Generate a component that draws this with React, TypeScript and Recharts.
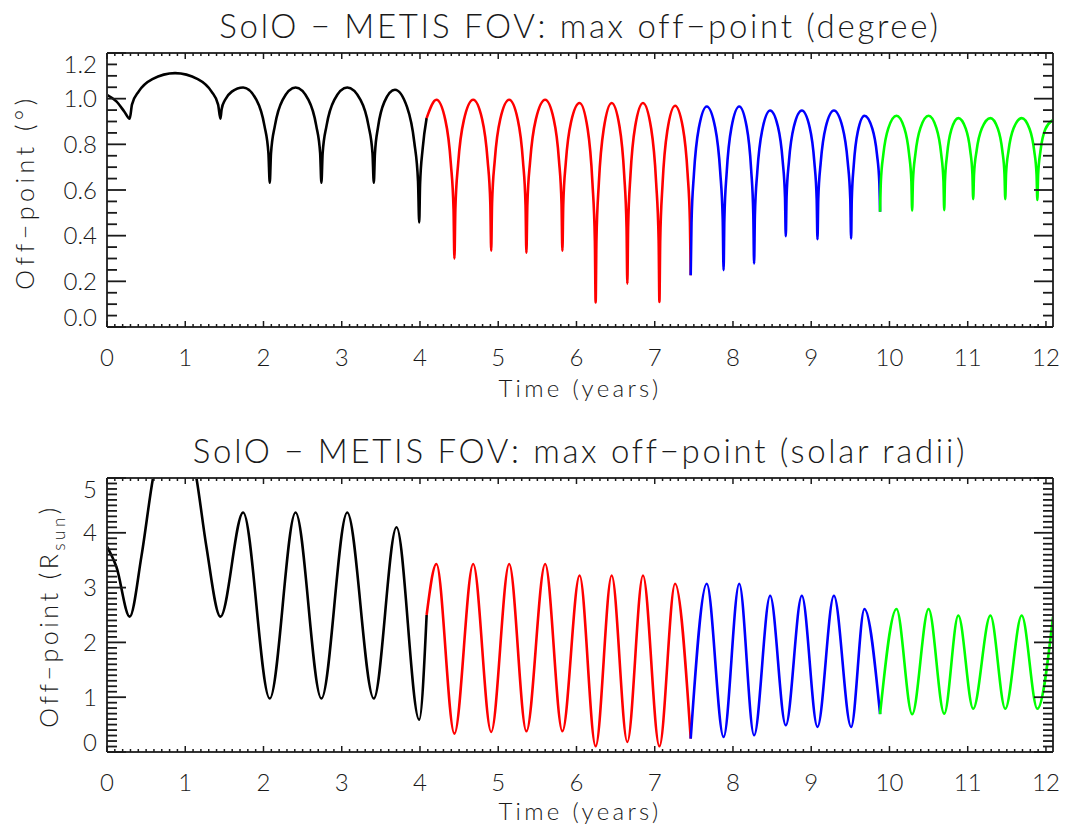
import React from "react";
import { LineChart, Line, XAxis, YAxis } from "recharts";

const FONT = "Lato, 'Open Sans', sans-serif";
const INK = "#1a1a1a";

// max off-point in degrees: [time (yr), value]
const degBlack = [
  [0, 1.017], [0.12, 0.988], [0.22, 0.944], [0.29, 0.912],
  [0.319, 0.974], [0.406, 1.032], [0.58, 1.086], [0.87, 1.112],
  [1.16, 1.086], [1.334, 1.032], [1.42, 0.974], [1.45, 0.912],
  [1.465, 0.954], [1.508, 0.994], [1.595, 1.031], [1.74, 1.049],
  [1.91, 0.995], [2.012, 0.882], [2.063, 0.761], [2.08, 0.632],
  [2.096, 0.761], [2.146, 0.882], [2.245, 0.995], [2.41, 1.049],
  [2.575, 0.995], [2.674, 0.882], [2.724, 0.761], [2.74, 0.632],
  [2.756, 0.761], [2.806, 0.882], [2.905, 0.995], [3.07, 1.049],
  [3.24, 0.995], [3.342, 0.882], [3.393, 0.761], [3.41, 0.632],
  [3.424, 0.758], [3.464, 0.876], [3.545, 0.986], [3.68, 1.039],
  [3.835, 0.963], [3.928, 0.807], [3.975, 0.638], [3.99, 0.458],
  [4.001, 0.624], [4.034, 0.78], [4.085, 0.915],
];
const degRed = [
  [4.085, 0.915], [4.21, 0.995],
  [4.325, 0.905], [4.394, 0.717], [4.429, 0.515], [4.44, 0.3],
  [4.452, 0.515], [4.488, 0.717], [4.56, 0.905], [4.68, 0.995],
  [4.795, 0.909], [4.864, 0.731], [4.899, 0.539], [4.91, 0.334],
  [4.921, 0.539], [4.956, 0.731], [5.025, 0.909], [5.14, 0.995],
  [5.25, 0.908], [5.316, 0.727], [5.349, 0.533], [5.36, 0.325],
  [5.372, 0.533], [5.408, 0.727], [5.48, 0.908], [5.6, 0.995],
  [5.71, 0.909], [5.776, 0.731], [5.809, 0.539], [5.82, 0.334],
  [5.831, 0.534], [5.864, 0.722], [5.93, 0.897], [6.04, 0.981],
  [6.143, 0.867], [6.204, 0.631], [6.235, 0.378], [6.245, 0.107],
  [6.255, 0.378], [6.286, 0.631], [6.348, 0.867], [6.45, 0.981],
  [6.55, 0.878], [6.61, 0.665], [6.64, 0.435], [6.65, 0.19],
  [6.66, 0.435], [6.69, 0.665], [6.75, 0.878], [6.85, 0.981],
  [6.955, 0.868], [7.018, 0.633], [7.05, 0.38], [7.06, 0.11],
  [7.07, 0.376], [7.1, 0.625], [7.16, 0.857], [7.26, 0.969],
  [7.36, 0.873], [7.42, 0.672], [7.45, 0.457], [7.46, 0.227],
];
const degBlue = [
  [7.46, 0.227], [7.47, 0.456], [7.501, 0.67], [7.563, 0.87], [7.665, 0.966],
  [7.773, 0.873], [7.837, 0.679], [7.869, 0.471], [7.88, 0.249],
  [7.89, 0.471], [7.92, 0.679], [7.98, 0.873], [8.08, 0.966],
  [8.175, 0.877], [8.232, 0.691], [8.26, 0.491], [8.27, 0.278],
  [8.28, 0.486], [8.311, 0.68], [8.373, 0.861], [8.475, 0.948],
  [8.575, 0.877], [8.635, 0.728], [8.665, 0.569], [8.675, 0.398],
  [8.685, 0.569], [8.716, 0.728], [8.778, 0.877], [8.88, 0.948],
  [8.98, 0.875], [9.04, 0.722], [9.07, 0.559], [9.08, 0.384],
  [9.09, 0.559], [9.122, 0.722], [9.185, 0.875], [9.29, 0.948],
  [9.4, 0.875], [9.466, 0.724], [9.499, 0.562], [9.51, 0.388],
  [9.518, 0.554], [9.544, 0.71], [9.595, 0.855], [9.68, 0.925],
  [9.78, 0.87], [9.84, 0.757], [9.87, 0.635], [9.88, 0.505],
];
const degGreen = [
  [9.88, 0.505], [9.89, 0.635], [9.922, 0.757], [9.985, 0.87], [10.09, 0.925],
  [10.19, 0.871], [10.25, 0.759], [10.28, 0.639], [10.29, 0.51],
  [10.3, 0.639], [10.332, 0.759], [10.395, 0.871], [10.5, 0.925],
  [10.6, 0.871], [10.66, 0.76], [10.69, 0.64], [10.7, 0.512],
  [10.709, 0.637], [10.736, 0.754], [10.79, 0.863], [10.88, 0.915],
  [10.975, 0.869], [11.032, 0.773], [11.06, 0.67], [11.07, 0.56],
  [11.081, 0.67], [11.114, 0.773], [11.18, 0.869], [11.29, 0.915],
  [11.385, 0.869], [11.442, 0.773], [11.47, 0.67], [11.48, 0.56],
  [11.49, 0.67], [11.522, 0.773], [11.585, 0.869], [11.69, 0.915],
  [11.79, 0.868], [11.85, 0.771], [11.88, 0.667], [11.89, 0.556],
  [11.9, 0.667], [11.93, 0.771], [11.99, 0.865], [12.09, 0.907],
];

// same orbit in solar radii (lower panel)
const rsBlack = [
  [0, 3.75], [0.12, 3.38], [0.29, 2.47], [0.44, 3.57], [0.588, 5.0],
  [0.87, 6.4], [1.143, 5.0], [1.27, 3.75], [1.45, 2.47], [1.74, 4.37],
  [2.08, 0.976], [2.41, 4.37], [2.74, 0.976], [3.07, 4.37], [3.41, 0.976],
  [3.7, 4.1], [3.99, 0.59], [4.085, 2.5],
];
const rsRed = [
  [4.085, 2.5], [4.21, 3.43], [4.44, 0.336], [4.68, 3.43], [4.91, 0.366],
  [5.14, 3.43], [5.36, 0.378], [5.6, 3.43], [5.82, 0.378], [6.04, 3.22],
  [6.245, 0.104], [6.45, 3.22], [6.65, 0.183], [6.85, 3.22], [7.06, 0.104],
  [7.26, 3.07], [7.46, 0.245],
];
const rsBlue = [
  [7.46, 0.245], [7.665, 3.07], [7.88, 0.274], [8.08, 3.07], [8.27, 0.305],
  [8.475, 2.85], [8.675, 0.488], [8.88, 2.85], [9.08, 0.457], [9.29, 2.85],
  [9.51, 0.457], [9.68, 2.61], [9.88, 0.69],
];
const rsGreen = [
  [9.88, 0.69], [10.09, 2.61], [10.29, 0.69], [10.5, 2.61], [10.7, 0.7],
  [10.88, 2.49], [11.07, 0.79], [11.29, 2.49], [11.48, 0.79], [11.69, 2.49],
  [11.89, 0.79], [12.09, 2.47],
];

const xMajor = [0, 1, 2, 3, 4, 5, 6, 7, 8, 9, 10, 11, 12];
const degMajor = [0, 0.2, 0.4, 0.6, 0.8, 1.0, 1.2];
const rsMajor = [0, 1, 2, 3, 4, 5];
const xMinor = Array.from({ length: 121 }, (_, i) => i / 10);
const degMinor = Array.from({ length: 25 }, (_, i) => (i * 5) / 100);
const rsMinor = Array.from({ length: 51 }, (_, i) => i / 10);

const X_MAX = 12.09;
const W = 1065;
const H = 415;
const PLOT_L = 107;
const PLOT_R = 1053;
const AX = 20; // room reserved for each axis

const toPts = (arr) => arr.map(([t, v]) => ({ t, v }));
const isMajor = (v, majors) => majors.some((m) => Math.abs(m - v) < 1e-6);

function Panel({ plotTop, plotBottom, yDomain, yMajor, yMinor, yFmt, series }) {
  const xTick = (side) => (props) => {
    const { x, payload } = props;
    const cx = payload.coordinate ?? x;
    const major = isMajor(payload.value, xMajor);
    const len = major ? 6 : 3;
    const y0 = side === "bottom" ? plotBottom : plotTop;
    const dir = side === "bottom" ? -1 : 1;
    return (
      <g>
        <line x1={cx} x2={cx} y1={y0} y2={y0 + dir * len} stroke={INK} strokeWidth={1.5} />
        {side === "bottom" && major && (
          <text x={cx} y={plotBottom + 39} textAnchor="middle" fontFamily={FONT}
            fontWeight={300} fontSize={24} fill={INK}>
            {Math.round(payload.value)}
          </text>
        )}
      </g>
    );
  };

  const yTick = (side) => (props) => {
    const { y, payload } = props;
    const cy = payload.coordinate ?? y;
    const major = isMajor(payload.value, yMajor);
    const len = major ? 19 : 10;
    const x0 = side === "left" ? PLOT_L : PLOT_R;
    const dir = side === "left" ? 1 : -1;
    let shift = 0;
    if (Math.abs(payload.value - yDomain[1]) < 1e-6) shift = 11;
    if (Math.abs(payload.value - yDomain[0]) < 1e-6) shift = -10;
    return (
      <g>
        <line x1={x0} x2={x0 + dir * len} y1={cy} y2={cy} stroke={INK} strokeWidth={1.8} />
        {side === "left" && major && (
          <text x={PLOT_L - 10} y={cy + 8.5 + shift} textAnchor="end" fontFamily={FONT}
            fontWeight={300} fontSize={24} fill={INK}>
            {yFmt(payload.value)}
          </text>
        )}
      </g>
    );
  };

  const axisLine = { stroke: "#333", strokeWidth: 2 };

  return (
    <LineChart
      width={W}
      height={H}
      margin={{
        top: plotTop - AX,
        right: W - PLOT_R - AX + 10,
        bottom: H - plotBottom - AX,
        left: PLOT_L - AX,
      }}
    >
      <XAxis xAxisId="b" dataKey="t" type="number" domain={[0, X_MAX]} allowDataOverflow
        ticks={xMinor} interval={0} tickLine={false} axisLine={axisLine}
        tick={xTick("bottom")} height={AX} />
      <XAxis xAxisId="t" orientation="top" dataKey="t" type="number" domain={[0, X_MAX]}
        allowDataOverflow ticks={xMinor} interval={0} tickLine={false} axisLine={axisLine}
        tick={xTick("top")} height={AX} />
      <YAxis yAxisId="l" type="number" domain={yDomain} allowDataOverflow ticks={yMinor}
        interval={0} tickLine={false} axisLine={axisLine} tick={yTick("left")} width={AX} />
      <YAxis yAxisId="r" orientation="right" type="number" domain={yDomain} allowDataOverflow
        ticks={yMinor} interval={0} tickLine={false} axisLine={axisLine} tick={yTick("right")}
        width={10} />
      {series.map(([pts, color], i) => (
        <Line key={i} data={toPts(pts)} dataKey="v" xAxisId="b" yAxisId="l" type="monotone"
          stroke={color} strokeWidth={2.6} dot={false} activeDot={false}
          isAnimationActive={false} />
      ))}
    </LineChart>
  );
}

export default function App() {
  const txt = { fontFamily: FONT, fontWeight: 300, fill: INK };
  return (
    <div style={{ position: "absolute", left: 0, top: 0, width: W, height: 830, background: "#fff" }}>
      <div style={{ position: "absolute", left: 0, top: 0 }}>
        <Panel
          plotTop={53}
          plotBottom={327}
          yDomain={[0, 1.2]}
          yMajor={degMajor}
          yMinor={degMinor}
          yFmt={(v) => v.toFixed(1)}
          series={[[degBlack, "#000000"], [degRed, "#ff0000"], [degBlue, "#0000ff"], [degGreen, "#00ff00"]]}
        />
      </div>
      <div style={{ position: "absolute", left: 0, top: 415 }}>
        <Panel
          plotTop={63}
          plotBottom={337}
          yDomain={[0, 5]}
          yMajor={rsMajor}
          yMinor={rsMinor}
          yFmt={(v) => String(Math.round(v))}
          series={[[rsBlack, "#000000"], [rsRed, "#ff0000"], [rsBlue, "#0000ff"], [rsGreen, "#00ff00"]]}
        />
      </div>
      <svg width={W} height={830} style={{ position: "absolute", left: 0, top: 0, pointerEvents: "none" }}>
        <text x={580} y={38} textAnchor="middle" fontSize={33} letterSpacing={2.7} {...txt}>
          SolO − METIS FOV: max off−point (degree)
        </text>
        <text x={580} y={397} textAnchor="middle" fontSize={24} letterSpacing={3.3} {...txt}>
          Time (years)
        </text>
        <text transform="translate(34,192) rotate(-90)" textAnchor="middle" fontSize={25}
          letterSpacing={4.5} {...txt}>
          Off−point (°)
        </text>
        <text x={580} y={463} textAnchor="middle" fontSize={33} letterSpacing={2.7} {...txt}>
          SolO − METIS FOV: max off−point (solar radii)
        </text>
        <text x={580} y={820} textAnchor="middle" fontSize={24} letterSpacing={3.3} {...txt}>
          Time (years)
        </text>
        <text transform="translate(58,616) rotate(-90)" textAnchor="middle" fontSize={25}
          letterSpacing={3.5} {...txt}>
          Off−point (R<tspan dy={7} fontSize={17}>sun</tspan><tspan dy={-7}>)</tspan>
        </text>
      </svg>
    </div>
  );
}
